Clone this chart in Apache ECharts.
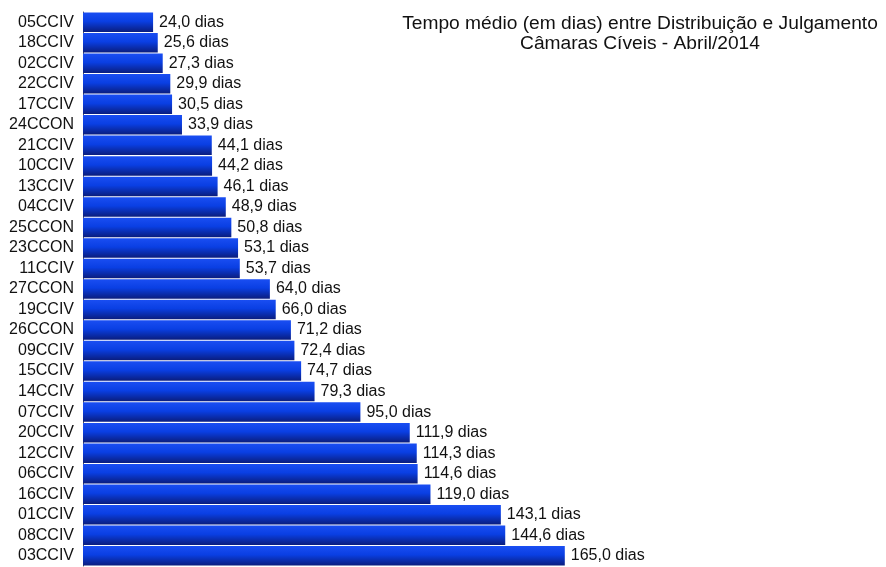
<!DOCTYPE html>
<html><head><meta charset="utf-8">
<script src="https://cdn.jsdelivr.net/npm/echarts@6/dist/echarts.min.js"></script>
<style>html,body{margin:0;padding:0;background:#fff}#c{width:886px;height:567px}</style>
</head><body><div id="c"></div>
<script>
const categories = ['05CCIV','18CCIV','02CCIV','22CCIV','17CCIV','24CCON','21CCIV','10CCIV','13CCIV','04CCIV','25CCON','23CCON','11CCIV','27CCON','19CCIV','26CCON','09CCIV','15CCIV','14CCIV','07CCIV','20CCIV','12CCIV','06CCIV','16CCIV','01CCIV','08CCIV','03CCIV'];
const values = [24.0,25.6,27.3,29.9,30.5,33.9,44.1,44.2,46.1,48.9,50.8,53.1,53.7,64.0,66.0,71.2,72.4,74.7,79.3,95.0,111.9,114.3,114.6,119.0,143.1,144.6,165.0];
const titleLines = ['Tempo médio (em dias) entre Distribuição e Julgamento','Câmaras Cíveis - Abril/2014'];

const chart = echarts.init(document.getElementById('c'));
chart.setOption({
  animation: false,
  backgroundColor: '#fff',
  title: {
    text: titleLines.join('\n'),
    left: 635, top: 9, textAlign: 'center',
    textStyle: { fontFamily: 'Liberation Sans, Arial', fontSize: 19.2, fontWeight: 'normal', color: '#111', lineHeight: 20 }
  },
  grid: { left: 83, right: 219, top: 12, bottom: 1 },
  xAxis: { type: 'value', min: 0, max: 200, show: false },
  yAxis: {
    type: 'category', data: categories, inverse: true,
    axisLine: { lineStyle: { color: '#555', width: 1 } },
    axisTick: { length: 4, lineStyle: { color: '#444' } },
    axisLabel: { interval: 0, fontFamily: 'Liberation Sans, Arial', fontSize: 16, color: '#111', margin: 9 }
  },
  series: [{
    type: 'bar', data: values, barCategoryGap: '5%',
    itemStyle: {
      color: new echarts.graphic.LinearGradient(0, 0, 0, 1, [
        { offset: 0, color: '#1a4ef2' },
        { offset: 0.45, color: '#0a3fe3' },
        { offset: 1, color: '#0a1d7e' }
      ])
    },
    label: {
      show: true, position: 'right', distance: 6,
      fontFamily: 'Liberation Sans, Arial', fontSize: 16, color: '#111',
      formatter: p => p.value.toFixed(1).replace('.', ',') + ' dias'
    }
  }]
});
</script></body></html>
